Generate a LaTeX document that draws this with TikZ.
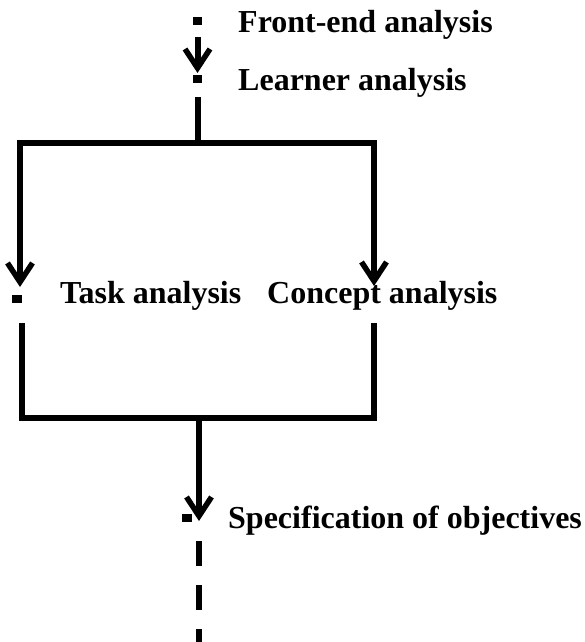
\documentclass[tikz,border=0pt]{standalone}
\usepackage{fontspec}
\setmainfont{Liberation Serif}
\usetikzlibrary{arrows.meta}
\begin{document}
\begin{tikzpicture}[x=1pt,y=-1pt,
  flow/.style={line width=6pt,line join=miter,black},
  flowarrow/.style={flow,-{Straight Barb[length=19pt,width=25pt,line width=5.5pt]}},
  bullet/.style={fill=black,inner sep=0pt,minimum width=9pt,minimum height=8pt},
  label/.style={anchor=base west,inner sep=0pt,font=\fontsize{32}{38}\selectfont\bfseries}]
  \useasboundingbox (0,0) rectangle (584,642);

  % stage markers and their captions
  \node[bullet] (b1) at (197.5,21) {};
  \node[label] (front) at (238,33) {Front-end analysis};
  \node[bullet] (b2) at (197.5,78.5) {};
  \node[label] (learner) at (238,90) {Learner analysis};
  \node[bullet, minimum width=10pt] (b3) at (17,299) {};
  \node[label] (task) at (60,303) {Task analysis};
  \node[label] (concept) at (267,303) {Concept analysis};
  \node[bullet, minimum width=10pt] (b4) at (187,518) {};
  \node[label] (spec) at (228,528) {Specification of objectives};

  % connector end points
  \coordinate (a1s) at (197.5,37);
  \coordinate (a1e) at (197.5,73);
  \coordinate (forkTop) at (198,97);
  \coordinate (fork) at (198,143);
  \coordinate (forkL) at (20,143);
  \coordinate (forkR) at (374,143);
  \coordinate (tipL) at (20,287);
  \coordinate (tipR) at (374,286);
  \coordinate (joinL) at (22,323);
  \coordinate (joinR) at (374,323);
  \coordinate (baseL) at (22,418);
  \coordinate (baseR) at (374,418);
  \coordinate (joinMid) at (199,418);
  \coordinate (tipMid) at (199,521);
  \coordinate (tailTop) at (199,541);
  \coordinate (tailEnd) at (199,642);

  % front-end to learner
  \draw[flowarrow] (a1s) -- (a1e);
  % split into the two analyses
  \draw[flow] (forkTop) -- (fork);
  \draw[flowarrow] (fork) -- (forkL) -- (tipL);
  \draw[flowarrow] (fork) -- (forkR) -- (tipR);
  % merge towards objectives
  \draw[flow] (joinL) -- (baseL) -- (baseR) -- (joinR);
  \draw[flowarrow] (joinMid) -- (tipMid);
  % continuation
  \draw[flow, dash pattern=on 25pt off 19pt] (tailTop) -- (tailEnd);
\end{tikzpicture}
\end{document}
